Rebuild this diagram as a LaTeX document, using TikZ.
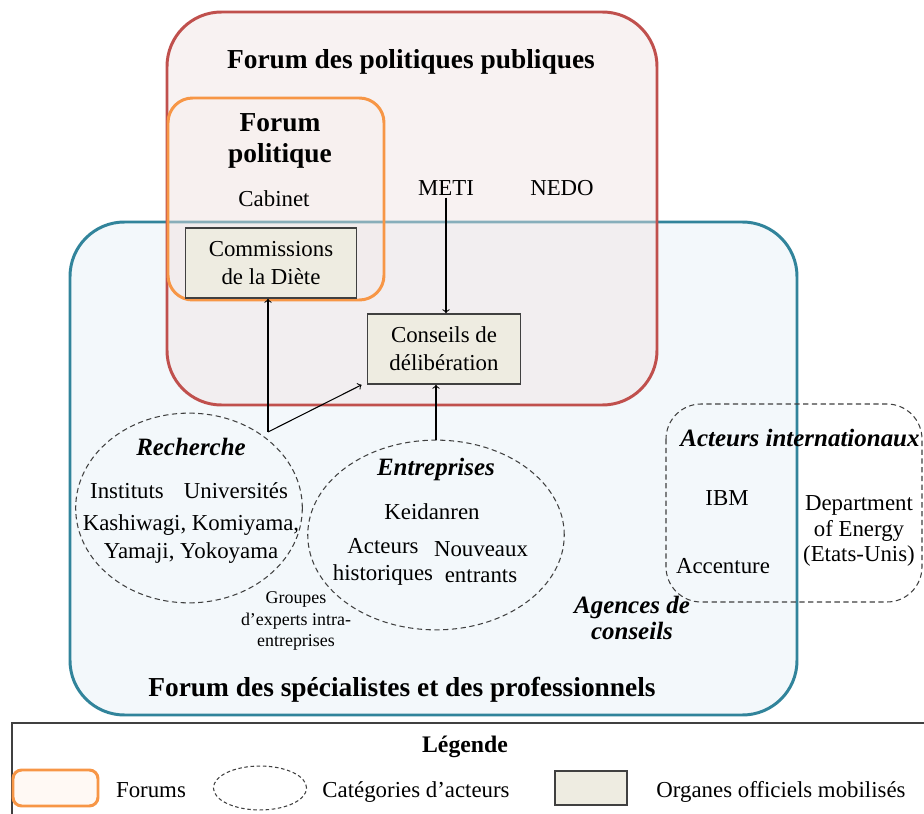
\documentclass[tikz,border=0pt]{standalone}
\usepackage{fontspec}
\setmainfont{Liberation Serif}
\usetikzlibrary{shapes.geometric}
\definecolor{rougeforum}{RGB}{192,80,77}
\definecolor{rougefond}{RGB}{241,227,227}
\definecolor{bleuforum}{RGB}{49,132,155}
\definecolor{bleufond}{RGB}{243,248,251}
\definecolor{orangeforum}{RGB}{247,150,70}
\definecolor{organefond}{RGB}{238,236,225}
\definecolor{traitgris}{RGB}{64,64,64}

\begin{document}
\begin{tikzpicture}[x=0.02cm, y=-0.02cm,
	every node/.style={align=center, inner sep=1pt},
	txt/.style={font=\fontsize{13}{16}\selectfont},
	titre/.style={font=\fontsize{15.6}{18}\selectfont\bfseries},
	categ/.style={font=\fontsize{14.2}{16}\selectfont\bfseries\itshape},
	petit/.style={font=\fontsize{10.2}{12.2}\selectfont},
	organe/.style={draw=traitgris, line width=0.8pt, fill=organefond, txt, minimum width=97pt, minimum height=40pt},
	acteurs/.style={draw=traitgris, dash pattern=on 3pt off 2pt, line width=0.6pt, ellipse, inner sep=0pt},
	fleche/.style={->, line width=0.6pt}]
	\useasboundingbox (0,0) rectangle (924,814);
	\fill[white] (0,0) rectangle (924,814);
	\draw[bleuforum, line width=1.7pt, fill=bleufond, rounded corners=31pt] (70,222) rectangle (797,715);
	\draw[rougeforum, line width=1.7pt, fill=rougefond, fill opacity=0.45, rounded corners=31pt] (167,12) rectangle (657,405);
	\draw[orangeforum, line width=1.7pt, fill=orangeforum, fill opacity=0.015, rounded corners=14pt] (168,98) rectangle (384,300);
	\draw[traitgris, dash pattern=on 3pt off 2pt, line width=0.6pt, rounded corners=20pt] (666,404) rectangle (922,602);
	\node[titre] (fpp) at (411,62) {Forum des politiques publiques};
	\node[titre] (fpol) at (280,141) {Forum\\politique};
	\node[txt] (cab) at (274,199) {Cabinet};
	\node[organe] (comm) at (271,263) {Commissions\\de la Diète};
	\node[txt] (meti) at (446,188) {METI};
	\node[txt] (nedo) at (562,188) {NEDO};
	\node[organe, minimum width=87pt] (consl) at (444,349) {Conseils de\\délibération};
	\node[acteurs, minimum width=129pt, minimum height=108pt] (rech) at (189,508) {};
	\node[acteurs, minimum width=146pt, minimum height=108pt] (entr) at (436,535) {};
	\coordinate (rq) at (268,432);
	\draw[fleche] (meti) -- (meti |- consl.north);
	\draw[fleche] (rq) -- (rq |- comm.south);
	\draw[fleche] (rq) -- ([xshift=-3pt]consl.south west);
	\draw[fleche] (entr.north) -- (entr.north |- consl.south);
	\node[categ] (rtit) at (191,447) {Recherche};
	\node[txt] (inst) at (127,491) {Instituts};
	\node[txt] (univ) at (236,491) {Universités};
	\node[txt] (cherch) at (191,539) {Kashiwagi, Komiyama,\\Yamaji, Yokoyama};
	\node[petit] (grp) at (296,621) {Groupes\\d'experts intra-\\entreprises};
	\node[categ] (etit) at (436,470) {Entreprises};
	\node[txt] (keid) at (432,512) {Keidanren};
	\node[txt, font=\fontsize{13}{15}\selectfont] (hist) at (383,562) {Acteurs\\historiques};
	\node[txt, font=\fontsize{13}{15}\selectfont] (nouv) at (481,562) {Nouveaux\\entrants};
	\node[categ, font=\fontsize{14.2}{14.5}\selectfont\bfseries\itshape] (agen) at (632,618) {Agences de\\conseils};
	\node[categ] (itit) at (800,438) {Acteurs internationaux};
	\node[txt] (ibm) at (727,498) {IBM};
	\node[txt] (acc) at (723,566) {Accenture};
	\node[txt, font=\fontsize{13}{14.5}\selectfont] (doe) at (859,531) {Department\\of Energy\\(Etats-Unis)};
	\node[titre] (fsp) at (402,690) {Forum des spécialistes et des professionnels};
	\draw[traitgris, line width=0.9pt] (930,723) -- (12,723) -- (12,820);
	\node[txt, font=\fontsize{13.5}{16}\selectfont\bfseries] (leg) at (465,747) {Légende};
	\draw[orangeforum, line width=1.7pt, fill=orangeforum!6, rounded corners=5pt] (13,770) rectangle (98,806);
	\node[txt] (lfor) at (151,790) {Forums};
	\node[acteurs, dash pattern=on 2pt off 1.5pt, minimum width=53pt, minimum height=25pt] (lcat) at (260,788) {};
	\node[txt] (lcattxt) at (416,792) {Catégories d'acteurs};
	\draw[traitgris, line width=0.8pt, fill=organefond] (555,771) rectangle (627,805);
	\node[txt] (lorg) at (781,792) {Organes officiels mobilisés};
\end{tikzpicture}
\end{document}
